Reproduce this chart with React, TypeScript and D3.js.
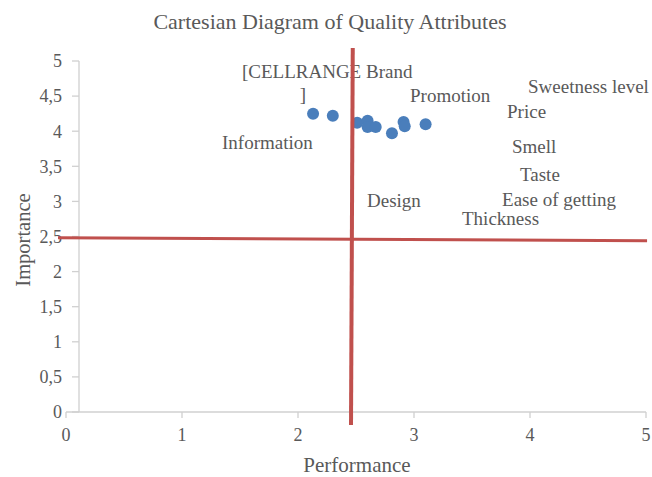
import React from "react";
import * as d3 from "d3";

const attributes = ["Information", "Brand", "Design", "Promotion", "Price", "Smell", "Taste", "Thickness", "Ease of getting", "Sweetness level"];
const performance = [2.13, 2.30, 2.51, 2.60, 2.60, 2.67, 2.81, 2.91, 2.92, 3.10];
const importance = [4.25, 4.22, 4.12, 4.15, 4.06, 4.06, 3.97, 4.13, 4.07, 4.10];

const xTicks = [0, 1, 2, 3, 4, 5];
const yTicks = [0, 0.5, 1, 1.5, 2, 2.5, 3, 3.5, 4, 4.5, 5];

// label text and its placement (data units) as moved in the source chart
const labelTexts = ["[CELLRANGE Brand", "]", "Promotion", "Sweetness level", "Price", "Smell", "Taste", "Ease of getting", "Thickness", "Design", "Information"];
const labelX = [1.517, 2.043, 2.966, 3.983, 3.802, 3.845, 3.914, 3.759, 3.414, 2.595, 1.345];
const labelY = [4.758, 4.43, 4.416, 4.544, 4.188, 3.689, 3.291, 2.934, 2.664, 2.92, 3.746];
const labelAnchor = ["start", "middle", "start", "start", "start", "start", "start", "start", "start", "start", "start"];

// quadrant divider lines (data units)
const hLineX = [-0.069, 5.009];
const hLineY = [2.483, 2.44];
const vLineX = [2.472, 2.457];
const vLineY = [5.185, -0.185];

const W = 652;
const H = 477;
const font = "'Liberation Serif', 'Times New Roman', serif";
const textColor = "#595959";
const axisColor = "#d0d0d0";

export default function App() {
  const x = d3.scaleLinear().domain([0, 5]).range([66, 646]);
  const y = d3.scaleLinear().domain([0, 5]).range([412, 61]);
  const yAxisX = 79;
  const fmt = (v: number) => String(v).replace(".", ",");

  return (
    <svg width={W} height={H} style={{ position: "absolute", left: 0, top: 0, background: "#fff" }} fontFamily={font}>
      <text x={330} y={29} textAnchor="middle" fontSize={22} fill={textColor}>
        Cartesian Diagram of Quality Attributes
      </text>

      {/* x axis */}
      <line x1={x(0)} x2={x(5)} y1={y(0)} y2={y(0)} stroke={axisColor} strokeWidth={1.3} />
      {xTicks.map((t) => (
        <g key={"xt" + t}>
          <line x1={x(t)} x2={x(t)} y1={y(0)} y2={y(0) + 6} stroke={axisColor} strokeWidth={1.3} />
          <text x={x(t)} y={441} textAnchor="middle" fontSize={18} fill={textColor}>
            {fmt(t)}
          </text>
        </g>
      ))}

      {/* y axis */}
      <line x1={yAxisX} x2={yAxisX} y1={y(0)} y2={y(5)} stroke={axisColor} strokeWidth={1.3} />
      {yTicks.map((t) => (
        <g key={"yt" + t}>
          <line x1={yAxisX - 7} x2={yAxisX} y1={y(t)} y2={y(t)} stroke={axisColor} strokeWidth={1.3} />
          <text x={62} y={y(t)} dy="0.35em" textAnchor="end" fontSize={18} fill={textColor}>
            {fmt(t)}
          </text>
        </g>
      ))}

      <text x={357} y={472} textAnchor="middle" fontSize={21} fill={textColor}>
        Performance
      </text>
      <text transform={`translate(30,240) rotate(-90)`} textAnchor="middle" fontSize={20.5} fill={textColor}>
        Importance
      </text>

      {/* points */}
      {attributes.map((a, i) => (
        <circle key={a} cx={x(performance[i])} cy={y(importance[i])} r={6} fill="#4a7ebb" />
      ))}

      {/* labels */}
      {labelTexts.map((t, i) => (
        <text key={"lb" + i} x={x(labelX[i])} y={y(labelY[i])} textAnchor={labelAnchor[i] as any} fontSize={19} fill={textColor}>
          {t}
        </text>
      ))}

      {/* quadrant lines */}
      <line x1={x(hLineX[0])} x2={x(hLineX[1])} y1={y(hLineY[0])} y2={y(hLineY[1])} stroke="#c0504d" strokeWidth={3} />
      <line x1={x(vLineX[0])} x2={x(vLineX[1])} y1={y(vLineY[0])} y2={y(vLineY[1])} stroke="#c0504d" strokeWidth={4} />
    </svg>
  );
}
